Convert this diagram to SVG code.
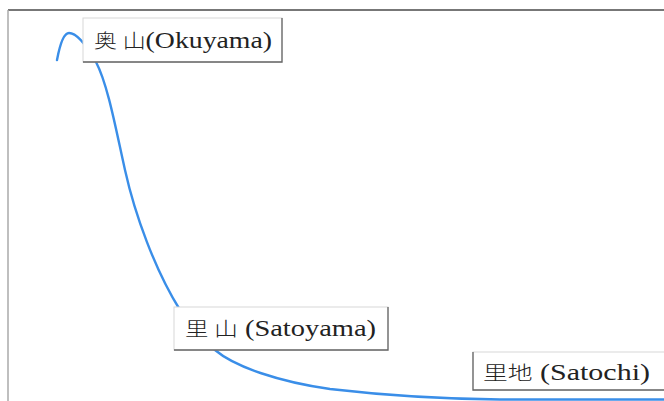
<svg xmlns="http://www.w3.org/2000/svg" width="664" height="401" viewBox="0 0 664 401">
<style>
.box{fill:#fff;stroke:#d8d8d8;stroke-width:1}
.sh{stroke:#666;stroke-width:1.3;fill:none}
.lbl{font-family:"Liberation Serif","Noto Sans CJK JP",serif;font-size:23px;fill:#222}
.cjk{font-size:19px;font-weight:300}
.curve{fill:none;stroke:#3a8ee8;stroke-width:2.4;stroke-linecap:round}
</style>
<g id="frame">
<line x1="8" y1="10" x2="664" y2="10" stroke="#777" stroke-width="2"/>
<line x1="8" y1="10" x2="8" y2="401" stroke="#aaa" stroke-width="1.5"/>
</g>
<g id="connectors">
<path class="curve" d="M57,60 C60,44 64,33 69,33 C78,33 88,48 96,62 C108,85 116,130 125,170 C135,215 155,270 180,310 C195,330 205,342 215,350 C235,367 280,382 330,389 C390,396 450,399 500,399.5 L664,399.5"/>
</g>
<g id="okuyama">
<rect class="box" x="83" y="18" width="199" height="44"/>
<polyline class="sh" points="83,62 282,62 282,18"/>
<text class="lbl" x="94" y="48" textLength="178" lengthAdjust="spacingAndGlyphs"><tspan class="cjk">奥 山</tspan>(Okuyama)</text>
</g>
<g id="satoyama">
<rect class="box" x="174" y="307" width="214" height="43"/>
<polyline class="sh" points="174,350 388,350 388,307"/>
<text class="lbl" x="185" y="336" textLength="191" lengthAdjust="spacingAndGlyphs"><tspan class="cjk">里 山</tspan> (Satoyama)</text>
</g>
<g id="satochi">
<rect class="box" x="473" y="352" width="200" height="38"/>
<polyline class="sh" points="473,352 473,390 673,390"/>
<text class="lbl" x="483" y="380" textLength="167" lengthAdjust="spacingAndGlyphs"><tspan class="cjk">里地</tspan> (Satochi)</text>
</g>
</svg>
